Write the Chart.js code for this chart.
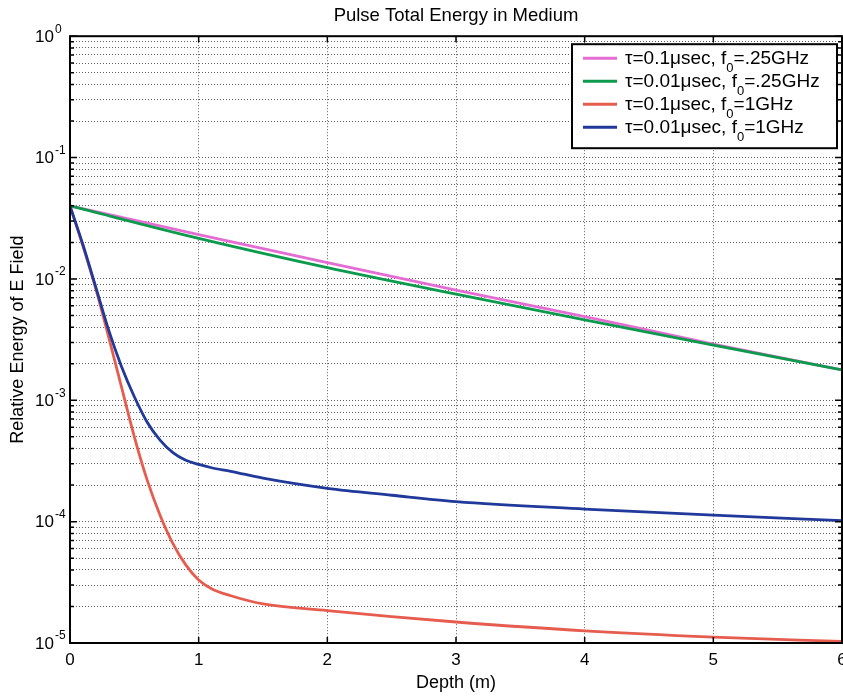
<!DOCTYPE html>
<html>
<head>
<meta charset="utf-8">
<script src="https://cdn.jsdelivr.net/npm/chart.js@4.4.1/dist/chart.umd.min.js"></script>
<style>
  html, body { margin: 0; padding: 0; background: #fff; }
</style>
</head>
<body>
<canvas id="energyChart" width="843" height="697"></canvas>
<script>
// depth samples (m)
const depthFine = [0, 0.1, 0.2, 0.3, 0.4, 0.5, 0.6, 0.7, 0.8, 0.9, 1.0, 1.1, 1.25, 1.5, 2, 2.5, 3, 4, 5, 6];
const depthCoarse = [0, 1, 2, 3, 4, 5, 6];

// relative energy of the E field
const energyTau01F025 = [0.040, 0.0232, 0.0136, 0.0081, 0.0049, 0.0029, 0.00178];
const energyTau001F025 = [0.040, 0.0216, 0.0124, 0.0075, 0.0046, 0.00285, 0.00178];
const energyTau01F1 = [0.040, 0.0187, 0.0083, 0.00333, 0.00129, 0.00050, 0.00022, 0.000113, 0.000066, 0.000044,
  0.000033, 0.000028, 0.0000245, 0.000021, 0.0000185, 0.0000165, 0.0000149, 0.0000126, 0.0000112, 0.0000103];
const energyTau001F1 = [0.040, 0.0192, 0.0086, 0.0038, 0.0019, 0.00107, 0.00066, 0.00047, 0.00037, 0.00032,
  0.000296, 0.000278, 0.00026, 0.000228, 0.000188, 0.000165, 0.000146, 0.000127, 0.000113, 0.000102];

const seriesLabels = ['τ=0.1μsec, f₀=.25GHz', 'τ=0.01μsec, f₀=.25GHz', 'τ=0.1μsec, f₀=1GHz', 'τ=0.01μsec, f₀=1GHz'];
const seriesColors = ['#e46dd4', '#0c9a4c', '#e65c4e', '#20399a'];

// y axis decades 10^0 .. 10^-5
const decadeExponents = [0, -1, -2, -3, -4, -5];
const xTickValues = [0, 1, 2, 3, 4, 5, 6];

const FONT = "'Liberation Sans', Arial, Helvetica, sans-serif";

function toPoints(xs, ys) {
    return xs.map((x, i) => ({ x: x, y: ys[i] }));
}

// matlab style box, inner tick marks, 10^n labels and legend
const matlabAxes = {
    id: 'matlabAxes',
    afterDraw(chart) {
        const { ctx, chartArea: a, scales: { x, y } } = chart;
        ctx.save();

        ctx.strokeStyle = '#000';
        ctx.lineWidth = 1.5;
        ctx.beginPath();
        xTickValues.forEach(v => {
            const px = x.getPixelForValue(v);
            ctx.moveTo(px, a.bottom); ctx.lineTo(px, a.bottom - 6);
            ctx.moveTo(px, a.top); ctx.lineTo(px, a.top + 6);
        });
        y.ticks.forEach(t => {
            const py = y.getPixelForValue(t.value);
            const m = Math.round(t.value / Math.pow(10, Math.floor(Math.log10(t.value) + 1e-9)));
            const len = m === 1 ? 7 : 4;
            ctx.moveTo(a.left, py); ctx.lineTo(a.left + len, py);
            ctx.moveTo(a.right, py); ctx.lineTo(a.right - len, py);
        });
        ctx.stroke();

        ctx.lineWidth = 2;
        ctx.strokeRect(a.left, a.top, a.right - a.left, a.bottom - a.top);

        // decade labels with superscript exponent
        ctx.fillStyle = '#000';
        ctx.textBaseline = 'middle';
        ctx.textAlign = 'left';
        decadeExponents.forEach(e => {
            const py = y.getPixelForValue(Math.pow(10, e));
            ctx.font = '17px ' + FONT;
            ctx.fillText('10', 35, py + 1);
            const w = ctx.measureText('10').width;
            ctx.font = '12px ' + FONT;
            ctx.fillText(String(e), 35 + w + 1, py - 7);
        });

        // legend
        const box = { left: a.right - 270, top: a.top + 8, width: 265, height: 104 };
        ctx.fillStyle = '#fff';
        ctx.fillRect(box.left, box.top, box.width, box.height);
        ctx.lineWidth = 2;
        ctx.strokeStyle = '#000';
        ctx.strokeRect(box.left, box.top, box.width, box.height);
        chart.data.datasets.forEach((ds, i) => {
            const ry = box.top + 14 + i * 23;
            ctx.strokeStyle = ds.borderColor;
            ctx.lineWidth = 3;
            ctx.beginPath();
            ctx.moveTo(box.left + 11, ry);
            ctx.lineTo(box.left + 45, ry);
            ctx.stroke();
            const parts = ds.label.split('₀');
            let tx = box.left + 53;
            ctx.fillStyle = '#000';
            ctx.font = '19px ' + FONT;
            ctx.fillText(parts[0], tx, ry + 1);
            tx += ctx.measureText(parts[0]).width;
            ctx.font = '13px ' + FONT;
            ctx.fillText('0', tx, ry + 10);
            tx += ctx.measureText('0').width;
            ctx.font = '19px ' + FONT;
            ctx.fillText(parts[1], tx, ry + 1);
        });

        ctx.restore();
    }
};

const gridStyle = { color: 'rgba(0,0,0,0.62)', lineWidth: 1, drawTicks: false };
const gridDash = { display: false, dash: [1, 2] };

const config = {
    type: 'line',
    data: {
        datasets: [
            { label: seriesLabels[0], data: toPoints(depthCoarse, energyTau01F025), borderColor: seriesColors[0], order: 4 },
            { label: seriesLabels[1], data: toPoints(depthCoarse, energyTau001F025), borderColor: seriesColors[1], order: 3 },
            { label: seriesLabels[2], data: toPoints(depthFine, energyTau01F1), borderColor: seriesColors[2], order: 2 },
            { label: seriesLabels[3], data: toPoints(depthFine, energyTau001F1), borderColor: seriesColors[3], order: 1 }
        ]
    },
    options: {
        responsive: false,
        animation: false,
        devicePixelRatio: 1,
        layout: { padding: { left: 0, right: 1, top: 0, bottom: 0 } },
        elements: {
            line: { borderWidth: 2.8, fill: false, cubicInterpolationMode: 'monotone' },
            point: { radius: 0 }
        },
        scales: {
            x: {
                type: 'linear',
                min: 0,
                max: 6,
                grid: gridStyle,
                border: gridDash,
                afterBuildTicks: scale => { scale.ticks = xTickValues.map(v => ({ value: v })); },
                afterFit: scale => { scale.height = 54; scale.paddingLeft = 0; scale.paddingRight = 0; },
                ticks: {
                    color: '#000',
                    padding: 7,
                    maxRotation: 0,
                    font: { family: FONT, size: 17 }
                },
                title: {
                    display: true,
                    text: 'Depth (m)',
                    color: '#000',
                    padding: { top: 0, bottom: 3 },
                    font: { family: FONT, size: 18 }
                }
            },
            y: {
                type: 'logarithmic',
                min: 1e-5,
                max: 1,
                grid: gridStyle,
                border: gridDash,
                afterBuildTicks: scale => {
                    const ticks = [];
                    decadeExponents.forEach(e => {
                        for (let m = 1; m < 10; m++) {
                            const v = m * Math.pow(10, e);
                            if (v <= 1.0000001) ticks.push({ value: v });
                        }
                    });
                    scale.ticks = ticks;
                },
                afterFit: scale => { scale.width = 70; scale.paddingTop = 0; scale.paddingBottom = 0; },
                ticks: { display: false },
                title: {
                    display: true,
                    text: 'Relative Energy of E Field',
                    color: '#000',
                    padding: { top: 7, bottom: 0 },
                    font: { family: FONT, size: 18 }
                }
            }
        },
        plugins: {
            legend: { display: false },
            tooltip: { enabled: false },
            title: {
                display: true,
                text: 'Pulse Total Energy in Medium',
                color: '#000',
                fullSize: false,
                padding: { top: 5, bottom: 9 },
                font: { family: FONT, size: 18.5, weight: 'normal' }
            }
        }
    },
    plugins: [matlabAxes]
};

window.energyChart = new Chart(document.getElementById('energyChart'), config);
</script>
</body>
</html>
